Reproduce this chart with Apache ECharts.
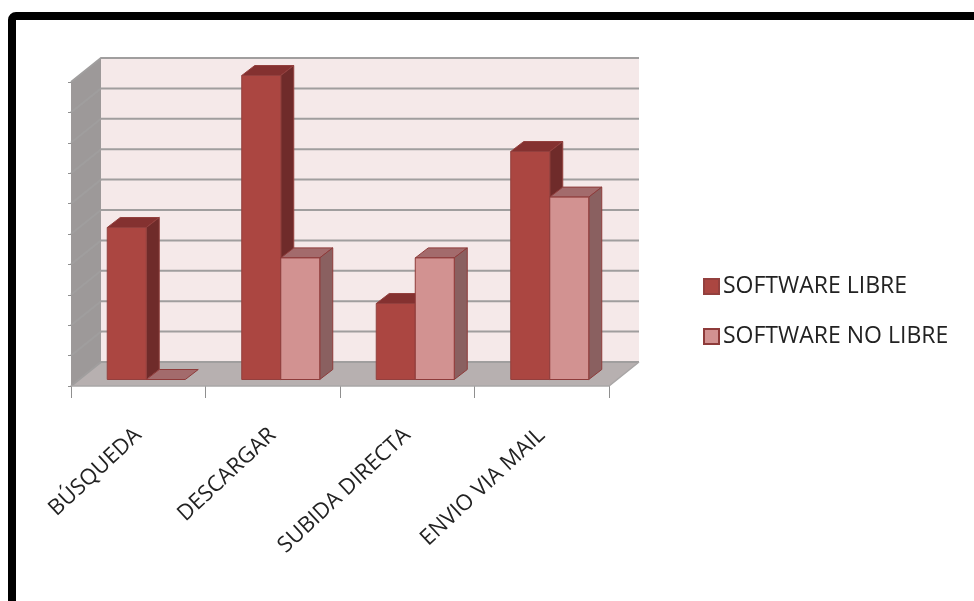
<!DOCTYPE html>
<html>
<head>
<meta charset="utf-8">
<style>
  html, body { margin: 0; padding: 0; background: #fff; }
  #chart { width: 974px; height: 601px; }
</style>
<script src="https://cdn.jsdelivr.net/npm/echarts@6/dist/echarts.min.js"></script>
</head>
<body>
<div id="chart"></div>
<script>
const categories = ['BÚSQUEDA', 'DESCARGAR', 'SUBIDA DIRECTA', 'ENVIO VIA MAIL'];
const softwareLibre = [5, 10, 2.5, 7.5];
const softwareNoLibre = [0, 4, 4, 6];
const gridTicks = [0, 1, 2, 3, 4, 5, 6, 7, 8, 9, 10];

// Oblique projection: the plot box recedes up and to the right.
const BOX_DX = 30, BOX_DY = -24;
const BAR_INSET_X = 8, BAR_INSET_Y = -6.5;
const BAR_DX = 13, BAR_DY = -10;
const BAR_FRACTION = 0.29;

const poly = (points, fill, stroke, lineWidth) => ({
  type: 'polygon',
  shape: { points },
  style: { fill, stroke: stroke || null, lineWidth: lineWidth || 0 },
  silent: true
});

function renderWalls(params, api) {
  const band = api.size([1, 0])[0];
  const x0 = api.coord([0, 0])[0] - band / 2;
  const x1 = api.coord([categories.length - 1, 0])[0] + band / 2;
  const yB = api.coord([0, 0])[1];
  const yT = api.coord([0, 10])[1];
  const children = [
    poly([[x0 + BOX_DX, yT + BOX_DY], [x1 + BOX_DX, yT + BOX_DY], [x1 + BOX_DX, yB + BOX_DY], [x0 + BOX_DX, yB + BOX_DY]], '#f5e9e9'),
    poly([[x0, yT], [x0 + BOX_DX, yT + BOX_DY], [x0 + BOX_DX, yB + BOX_DY], [x0, yB]], '#9d9999'),
    poly([[x0, yB], [x0 + BOX_DX, yB + BOX_DY], [x1 + BOX_DX, yB + BOX_DY], [x1, yB]], '#b7b0b0')
  ];
  gridTicks.forEach(v => {
    const y = api.coord([0, v])[1];
    children.push({
      type: 'polyline',
      shape: { points: [[x0, y], [x0 + BOX_DX, y + BOX_DY], [x1 + BOX_DX, y + BOX_DY]] },
      style: { fill: null, stroke: '#a09e9e', lineWidth: 2 },
      silent: true
    });
  });
  children.push({
    type: 'polyline',
    shape: { points: [[x0, yB], [x1, yB], [x1 + BOX_DX, yB + BOX_DY]] },
    style: { fill: null, stroke: '#a9a6a6', lineWidth: 1.5 },
    silent: true
  });
  return { type: 'group', children };
}

function makeBarRenderer(slot, colors) {
  return function (params, api) {
    const band = api.size([1, 0])[0];
    const w = band * BAR_FRACTION;
    const centre = api.coord([api.value(0), 0])[0];
    const yBase = api.coord([0, 0])[1] + BAR_INSET_Y;
    const yTop = api.coord([0, api.value(1)])[1] + BAR_INSET_Y;
    const xl = centre + BAR_INSET_X - w + slot * w;
    const xr = xl + w;
    const h = api.value(1) > 0;
    const children = [
      poly([[xl, yTop], [xr, yTop], [xr + BAR_DX, yTop + BAR_DY], [xl + BAR_DX, yTop + BAR_DY]], colors.top, colors.edge, 1)
    ];
    if (h) {
      children.push(poly([[xr, yTop], [xr + BAR_DX, yTop + BAR_DY], [xr + BAR_DX, yBase + BAR_DY], [xr, yBase]], colors.side, colors.edge, 1));
      children.push(poly([[xl, yTop], [xr, yTop], [xr, yBase], [xl, yBase]], colors.front, colors.edge, 1));
    }
    return { type: 'group', children };
  };
}

const libreColors = { front: '#ab4641', top: '#843130', side: '#6f2b2a', edge: '#93403e' };
const noLibreColors = { front: '#d29291', top: '#a36b6c', side: '#8a6060', edge: '#8e3b3a' };

const chart = echarts.init(document.getElementById('chart'));
chart.setOption({
  animation: false,
  backgroundColor: '#ffffff',
  graphic: [{
    type: 'rect',
    shape: { x: 12, y: 16, width: 1000, height: 700, r: 4 },
    style: { fill: null, stroke: '#000000', lineWidth: 8 },
    silent: true,
    z: 100
  }],
  legend: {
    orient: 'vertical',
    left: 698,
    top: 270,
    itemWidth: 15,
    itemHeight: 15,
    itemGap: 27,
    icon: 'rect',
    textStyle: { fontFamily: 'Open Sans', fontSize: 23, color: '#222222', padding: [0, 0, 0, -1] },
    data: ['SOFTWARE LIBRE', 'SOFTWARE NO LIBRE']
  },
  grid: { left: 71, top: 82, width: 538, height: 304, containLabel: false },
  xAxis: {
    type: 'category',
    data: categories,
    axisLine: { show: false },
    axisTick: { show: true, alignWithLabel: false, length: 12, lineStyle: { color: '#8f8f8f', width: 1 } },
    axisLabel: {
      interval: 0,
      rotate: 43,
      margin: 46,
      fontFamily: 'Open Sans',
      fontSize: 22,
      color: '#222222'
    }
  },
  yAxis: {
    type: 'value',
    min: 0,
    max: 10,
    interval: 1,
    axisLine: { show: false },
    axisTick: { show: true, length: 3, lineStyle: { color: '#8f8f8f', width: 1 } },
    axisLabel: { show: false },
    splitLine: { show: false }
  },
  series: [
    {
      name: 'walls',
      type: 'custom',
      renderItem: renderWalls,
      data: [[0, 0]],
      z: 1,
      silent: true,
      clip: false
    },
    {
      name: 'SOFTWARE LIBRE',
      type: 'custom',
      renderItem: makeBarRenderer(0, libreColors),
      data: softwareLibre.map((v, i) => [i, v]),
      itemStyle: { color: libreColors.front, borderColor: libreColors.edge, borderWidth: 1 },
      encode: { x: 0, y: 1 },
      z: 2,
      clip: false
    },
    {
      name: 'SOFTWARE NO LIBRE',
      type: 'custom',
      renderItem: makeBarRenderer(1, noLibreColors),
      data: softwareNoLibre.map((v, i) => [i, v]),
      itemStyle: { color: noLibreColors.front, borderColor: noLibreColors.edge, borderWidth: 1 },
      encode: { x: 0, y: 1 },
      z: 3,
      clip: false
    }
  ]
});
</script>
</body>
</html>
